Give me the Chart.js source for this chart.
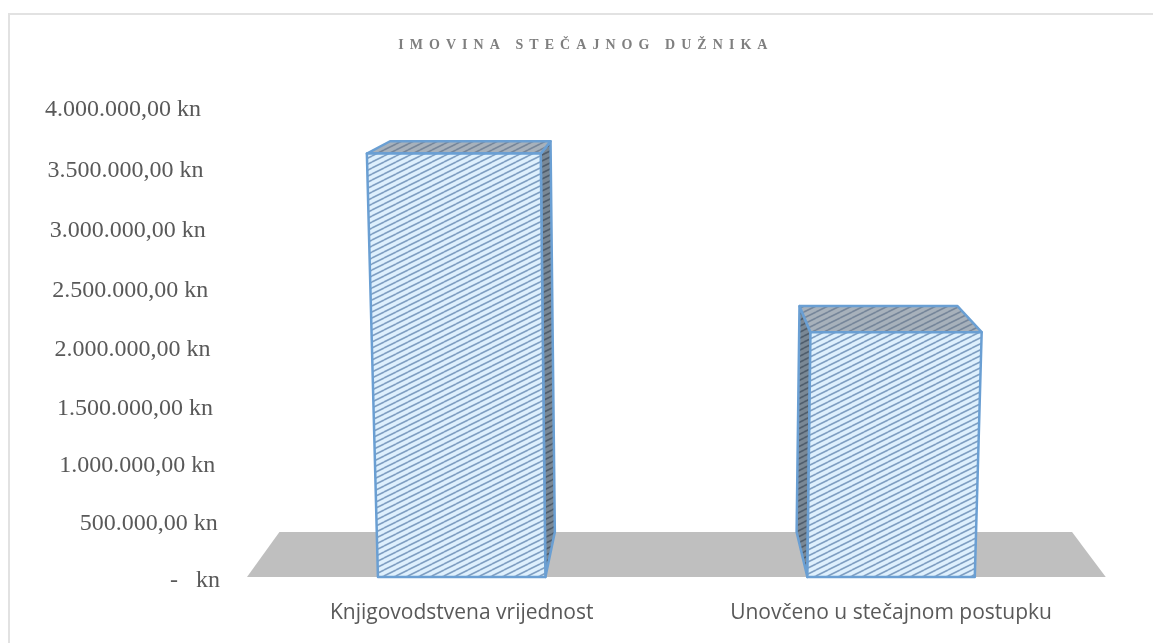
<!DOCTYPE html>
<html lang="en">
<head>
  <meta charset="UTF-8" />
  <title>Imovina stečajnog dužnika</title>
  <script src="https://cdn.jsdelivr.net/npm/chart.js"></script>
  <style>
    html, body { margin: 0; background: #fff; overflow: hidden; }
    #frame {
      position: absolute;
      left: 8px; top: 13px; width: 1200px; height: 700px;
      border: 2px solid #e2e2e2;
      box-sizing: border-box;
    }
    #wrap { position: absolute; left: 0; top: 0; width: 1153px; height: 643px; }
  </style>
</head>
<body>
  <div id="frame"></div>
  <div id="wrap"><canvas id="chart" width="1153" height="643"></canvas></div>

  <script>
    const categories = ["Knjigovodstvena vrijednost", "Unovčeno u stečajnom postupku"];
    const seriesValues = [3630000, 2130000];
    const tickLabels = [
      "-   kn", "500.000,00 kn", "1.000.000,00 kn", "1.500.000,00 kn", "2.000.000,00 kn",
      "2.500.000,00 kn", "3.000.000,00 kn", "3.500.000,00 kn", "4.000.000,00 kn"
    ];
    const chartTitle = "IMOVINA STEČAJNOG DUŽNIKA";

    // fake perspective of the 3D column chart
    const vanishX = 668, vanishY = -7, depth = 0.077, lean = 0.00009, sag = 4.5;

    function front(chart, x, y) {
      const area = chart.chartArea;
      const h = area.bottom - y;
      const t = h / (area.bottom - area.top);
      return [x + (x - vanishX) * lean * h, y + 4 * sag * t * (1 - t)];
    }
    function back(p) {
      return [p[0] + (vanishX - p[0]) * depth, p[1] + (vanishY - p[1]) * depth];
    }

    function stripes(bg, line) {
      const c = document.createElement("canvas");
      c.width = 12; c.height = 6;
      const g = c.getContext("2d");
      g.fillStyle = bg;
      g.fillRect(0, 0, 12, 6);
      g.strokeStyle = line;
      g.lineWidth = 1.6;
      for (const dy of [-6, 0, 6]) {
        g.beginPath();
        g.moveTo(0, 6 + dy);
        g.lineTo(12, 0 + dy);
        g.stroke();
      }
      return document.createElement("canvas").getContext("2d").createPattern(c, "repeat");
    }
    const frontFill = stripes("#def0fd", "#7f9fc2");
    const topFill = stripes("#a7b1bb", "#76869a");
    const sideFill = stripes("#7a8895", "#4f5d6c");
    const edgeColor = "#6a9fd3";

    function face(ctx, pts, fill) {
      ctx.beginPath();
      pts.forEach((p, i) => i ? ctx.lineTo(p[0], p[1]) : ctx.moveTo(p[0], p[1]));
      ctx.closePath();
      ctx.fillStyle = fill;
      ctx.fill();
      ctx.stroke();
    }

    const perspective = {
      id: "perspective",
      beforeDraw(chart) {
        // spaced title letters
        const tb = chart.titleBlock;
        if (!tb.spaced) {
          const draw = tb.draw;
          tb.draw = function () {
            chart.ctx.save();
            chart.ctx.translate(33, 0);
            chart.ctx.letterSpacing = "6.05px";
            draw.call(tb);
            chart.ctx.letterSpacing = "0px";
            chart.ctx.restore();
          };
          tb.spaced = true;
        }
        // slant the y tick labels along the leaning wall
        const yScale = chart.scales.y;
        const items = yScale.getLabelItems();
        items.forEach((item, i) => {
          if (item.slanted) return;
          const py = yScale.getPixelForTick(i);
          const p = front(chart, chart.chartArea.left - 27, py);
          const t = yScale.getValueForPixel(py) / yScale.max;
          item.options.translation = [p[0], p[1] + 3.5 - 2.5 * t];
          item.slanted = true;
        });
      },
      beforeDatasetsDraw(chart) {
        const x = chart.scales.x, y = chart.scales.y, ctx = chart.ctx;
        const a = [x.left, y.bottom], b = [x.right, y.bottom];
        ctx.save();
        ctx.beginPath();
        ctx.moveTo(a[0], a[1]);
        ctx.lineTo(b[0], b[1]);
        ctx.lineTo(back(b)[0], back(b)[1]);
        ctx.lineTo(back(a)[0], back(a)[1]);
        ctx.closePath();
        ctx.fillStyle = "#bfbfbf";
        ctx.fill();
        ctx.restore();
      },
      beforeDatasetDraw(chart, args) {
        const ctx = chart.ctx;
        chart.getDatasetMeta(args.index).data.forEach((bar) => {
          const l = bar.x - bar.width / 2, r = bar.x + bar.width / 2;
          const bl = front(chart, l, bar.base), br = front(chart, r, bar.base);
          const tl = front(chart, l, bar.y), tr = front(chart, r, bar.y);
          ctx.save();
          ctx.strokeStyle = bar.options.borderColor;
          ctx.lineWidth = bar.options.borderWidth;
          ctx.lineJoin = "round";
          const rightSide = bar.x < vanishX;
          const near = rightSide ? [tr, br] : [tl, bl];
          face(ctx, [near[0], back(near[0]), back(near[1]), near[1]], sideFill);
          face(ctx, [tl, back(tl), back(tr), tr], topFill);
          face(ctx, [tl, tr, br, bl], bar.options.backgroundColor);
          ctx.restore();
        });
        return false;
      }
    };

    new Chart(document.getElementById("chart"), {
      type: "bar",
      data: {
        labels: categories,
        datasets: [{
          data: seriesValues,
          backgroundColor: frontFill,
          borderColor: edgeColor,
          borderWidth: 2.5,
          barPercentage: 0.39,
          categoryPercentage: 1
        }]
      },
      options: {
        responsive: false,
        animation: false,
        layout: { padding: { left: 0, right: 47.25, top: 0, bottom: 0 } },
        plugins: {
          legend: { display: false },
          tooltip: { enabled: false },
          title: {
            display: true,
            text: chartTitle,
            color: "#7f7f7f",
            font: { family: "'Liberation Serif'", size: 14, weight: "bold" },
            padding: { top: 37, bottom: 55 }
          }
        },
        scales: {
          y: {
            min: 0,
            max: 4000000,
            grid: { display: false },
            border: { display: false },
            afterFit(s) { s.width = 247; },
            ticks: {
              stepSize: 500000,
              padding: 27,
              color: "#595959",
              font: { family: "'Liberation Serif'", size: 24 },
              callback: (v, i) => tickLabels[i]
            }
          },
          x: {
            grid: { display: false },
            border: { display: false },
            afterFit(s) { s.height = 66; },
            ticks: {
              padding: 15,
              color: "#595959",
              font: { family: "'Open Sans'", size: 21 }
            }
          }
        }
      },
      plugins: [perspective]
    });
  </script>
</body>
</html>
